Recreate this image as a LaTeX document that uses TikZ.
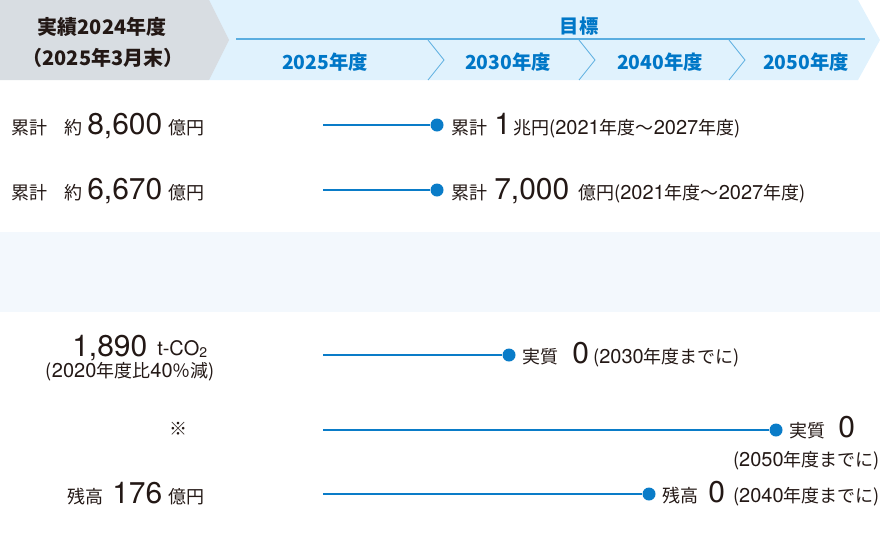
\documentclass[tikz,border=0pt]{standalone}
\usepackage{fontspec}
\setmainfont{TeX Gyre Heros}
\newfontfamily\jp{Noto Sans CJK JP}
\usepackage{tikz}

\definecolor{ink}{HTML}{231815}
\definecolor{headgray}{HTML}{D8DDE2}
\definecolor{headblue}{HTML}{E0F2FD}
\definecolor{tline}{HTML}{5BAEE0}
\definecolor{goalblue}{HTML}{0077C7}
\definecolor{linkblue}{HTML}{0A7CC8}
\definecolor{band}{HTML}{F3F8FD}

\newcommand{\nm}[1]{{\rmfamily\fontsize{15}{16}\selectfont #1}} % digits in small text

\tikzset{
  jptxt/.style={font=\jp\fontsize{13.5}{15}\selectfont, text=ink, inner sep=0pt, anchor=base west},
  bignum/.style={font=\fontsize{22.5}{24}\selectfont, text=ink, inner sep=0pt, anchor=base west},
  headtxt/.style={font=\jp\bfseries\fontsize{15}{17}\selectfont, text=ink, inner sep=0pt},
  yeartxt/.style={headtxt, font=\jp\bfseries\fontsize{14.5}{16}\selectfont, text=goalblue},
  link/.style={draw=linkblue, line width=1.5pt},
  dot/.style={circle, fill=linkblue, minimum size=9.75pt, inner sep=0pt},
}

\begin{document}
\begin{tikzpicture}[x=0.75pt, y=-0.75pt]
\useasboundingbox (0,0) rectangle (880,547);
\def\ra{134};  %baseline row 1%
\def\rb{199};  %baseline row 2%
\def\xs{323};  %start of the lines%

% header %
\fill[headblue] (209,0) -- (858,0) -- (880,40) -- (858,80) -- (209,80) -- cycle;
\fill[headgray] (0,0) -- (209,0) -- (229,40) -- (209,80) -- (0,80) -- cycle;
\draw[tline, line width=1.2pt] (236,39) -- (865,39);
\foreach \cx in {428,579,729}
  \draw[tline, line width=0.6pt] (\cx,40) -- (\cx+16,60) -- (\cx,80);
\fill[band] (0,232) rectangle (880,312); %empty band%

\node[headtxt] (h1) at (102,27) {実績2024年度};
\node[headtxt] (h2) at (103,58) {（2025年3月末）};
\node[yeartxt] (goal) at (579,26) {目標};
\node[yeartxt] (y25) at (325,62) {2025年度};
\node[yeartxt] (y30) at (508,62) {2030年度};
\node[yeartxt] (y40) at (660,62) {2040年度};
\node[yeartxt] (y50) at (806,62) {2050年度};

% row 1 %
\node[jptxt] (a1) at (11,\ra) {累計};
\node[jptxt] (a2) at (64,\ra) {約};
\node[bignum] (a3) at (87,\ra) {8,600};
\node[jptxt] (a4) at (168,\ra) {億円};
\coordinate (s1) at (\xs,125);
\node[dot] (d1) at (437,125) {};
\draw[link] (s1) -- (d1);
\node[jptxt] (a5) at (451,\ra) {累計};
\node[bignum] (a6) at (494,\ra) {1};
\node[jptxt] (a7) at (513,\ra) {兆円(\nm{2021}年度～\nm{2027}年度)};

% row 2 %
\node[jptxt] (b1) at (11,\rb) {累計};
\node[jptxt] (b2) at (64,\rb) {約};
\node[bignum] (b3) at (87,\rb) {6,670};
\node[jptxt] (b4) at (168,\rb) {億円};
\coordinate (s2) at (\xs,190);
\node[dot] (d2) at (437,190) {};
\draw[link] (s2) -- (d2);
\node[jptxt] (b5) at (451,\rb) {累計};
\node[bignum] (b6) at (494,\rb) {7,000};
\node[jptxt] (b7) at (578,\rb) {億円(\nm{2021}年度～\nm{2027}年度)};

% row 3 %
\node[bignum] (c1) at (72,356) {1,890};
\node[inner sep=0pt, anchor=base west, text=ink, font=\fontsize{15}{16}\selectfont] (c2) at (157,355) {t-CO\raisebox{-0.25ex}{\fontsize{10.5}{11}\selectfont 2}};
\node[jptxt, anchor=base east] (c3) at (215,377) {(\nm{2020}年度比\nm{40}％減)};
\coordinate (s3) at (\xs,355);
\node[dot] (d3) at (509,355) {};
\draw[link] (s3) -- (d3);
\node[jptxt] (c4) at (522,363) {実質};
\node[bignum] (c5) at (572,363) {0};
\node[jptxt] (c6) at (593,363) {(\nm{2030}年度までに)};

% row 4 %
\node[jptxt, anchor=center] (e1) at (178,429) {※};
\coordinate (s4) at (\xs,430);
\node[dot] (d4) at (776,430) {};
\draw[link] (s4) -- (d4);
\node[jptxt] (e2) at (789,437) {実質};
\node[bignum] (e3) at (838,437) {0};
\node[jptxt, anchor=base east] (e4) at (880,466) {(\nm{2050}年度までに)};

% row 5 %
\node[jptxt] (f1) at (67,503) {残高};
\node[bignum] (f2) at (112,503) {176};
\node[jptxt] (f3) at (168,503) {億円};
\coordinate (s5) at (\xs,494);
\node[dot] (d5) at (649,494) {};
\draw[link] (s5) -- (d5);
\node[jptxt] (f4) at (662,502) {残高};
\node[bignum] (f5) at (708,502) {0};
\node[jptxt, anchor=base east] (f6) at (880,502) {(\nm{2040}年度までに)};
\end{tikzpicture}
\end{document}
